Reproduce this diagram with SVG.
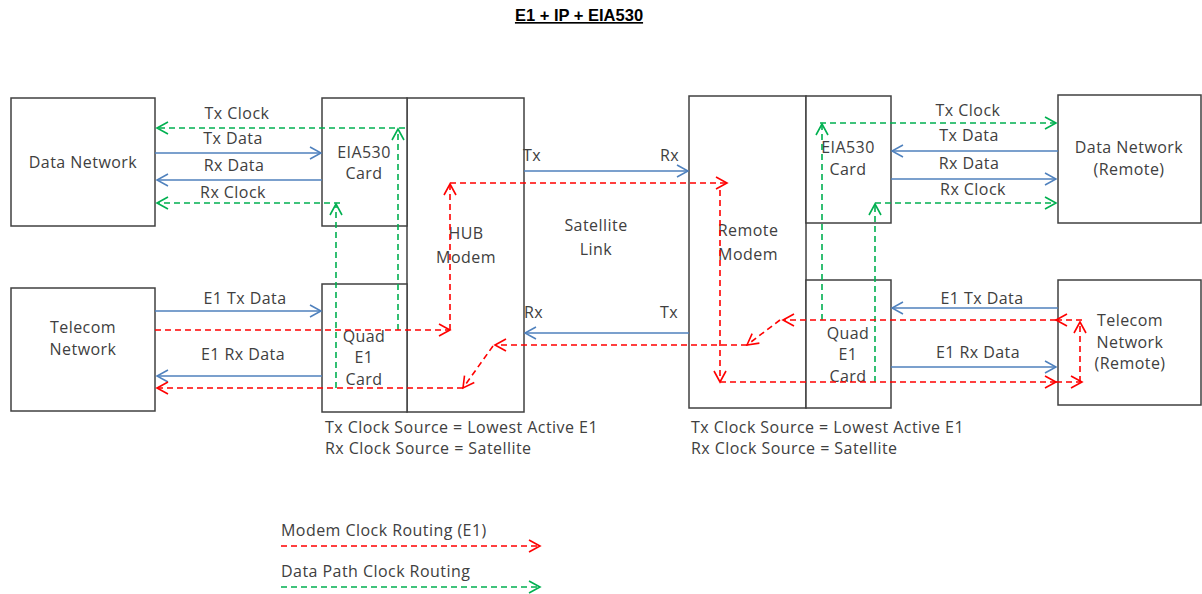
<svg xmlns="http://www.w3.org/2000/svg" width="1202" height="594" viewBox="0 0 1202 594">
<style>
.box{fill:#fff;stroke:#404040;stroke-width:1.5}
.t{font-family:"Open Sans","Liberation Sans",sans-serif;font-size:16px;letter-spacing:0.45px;fill:#404040}
.c{text-anchor:middle}
.blue{stroke:#4F81BD;stroke-width:1.5;fill:none}
.red{stroke:#FF0000;stroke-width:1.6;fill:none;stroke-dasharray:6 4}
.green{stroke:#00B050;stroke-width:1.6;fill:none;stroke-dasharray:6 4}
.ttl{font-family:"Liberation Sans",sans-serif;font-size:16.5px;font-weight:bold;fill:#000;text-anchor:middle;text-decoration:underline}
</style>
<defs>
<marker id="ab" markerUnits="userSpaceOnUse" markerWidth="14" markerHeight="14" viewBox="0 0 14 14" refX="12" refY="7" orient="auto"><path d="M1,1 L12,7 L1,13" fill="none" stroke="#4F81BD" stroke-width="1.5"/></marker>
<marker id="ar" markerUnits="userSpaceOnUse" markerWidth="14" markerHeight="14" viewBox="0 0 14 14" refX="12" refY="7" orient="auto"><path d="M1,1 L12,7 L1,13" fill="none" stroke="#FF0000" stroke-width="1.6"/></marker>
<marker id="ag" markerUnits="userSpaceOnUse" markerWidth="14" markerHeight="14" viewBox="0 0 14 14" refX="12" refY="7" orient="auto"><path d="M1,1 L12,7 L1,13" fill="none" stroke="#00B050" stroke-width="1.6"/></marker>
</defs>
<rect width="1202" height="594" fill="#fff"/>
<text class="ttl" x="579" y="21">E1 + IP + EIA530</text>

<g id="dataNetwork"><rect class="box" x="11" y="98" width="144" height="128"/><text class="t c" x="83" y="168">Data Network</text></g>
<g id="telecomNetwork"><rect class="box" x="11" y="288" width="144" height="123"/><text class="t c" x="83" y="333">Telecom</text><text class="t c" x="83" y="355">Network</text></g>
<g id="hubModem"><rect class="box" x="407" y="98" width="117" height="314"/><text class="t c" x="466" y="239">HUB</text><text class="t c" x="466" y="263">Modem</text></g>
<g id="eia530Hub"><rect class="box" x="322" y="98" width="85" height="128"/><text class="t c" x="364" y="158">EIA530</text><text class="t c" x="364" y="179">Card</text></g>
<g id="quadE1Hub"><rect class="box" x="322" y="284" width="85" height="128"/><text class="t c" x="364" y="342">Quad</text><text class="t c" x="364" y="363">E1</text><text class="t c" x="364" y="385">Card</text></g>
<g id="remoteModem"><rect class="box" x="689" y="96" width="117" height="312"/><text class="t c" x="748" y="236">Remote</text><text class="t c" x="748" y="260">Modem</text></g>
<g id="eia530Remote"><rect class="box" x="806" y="96" width="85" height="127"/><text class="t c" x="848" y="153">EIA530</text><text class="t c" x="848" y="175">Card</text></g>
<g id="quadE1Remote"><rect class="box" x="806" y="280" width="85" height="128"/><text class="t c" x="848" y="339">Quad</text><text class="t c" x="848" y="360">E1</text><text class="t c" x="848" y="382">Card</text></g>
<g id="dataNetworkRemote"><rect class="box" x="1058" y="95" width="143" height="128"/><text class="t c" x="1129" y="153">Data Network</text><text class="t c" x="1129" y="175">(Remote)</text></g>
<g id="telecomNetworkRemote"><rect class="box" x="1058" y="280" width="143" height="125"/><text class="t c" x="1130" y="326">Telecom</text><text class="t c" x="1130" y="348">Network</text><text class="t c" x="1130" y="369">(Remote)</text></g>

<g id="connectors">
<path class="blue" d="M155,153 H321" marker-end="url(#ab)"/>
<path class="blue" d="M322,180 H157" marker-end="url(#ab)"/>
<path class="blue" d="M155,311 H321" marker-end="url(#ab)"/>
<path class="blue" d="M322,376 H157" marker-end="url(#ab)"/>
<path class="blue" d="M524,171 H688" marker-end="url(#ab)"/>
<path class="blue" d="M689,333 H525" marker-end="url(#ab)"/>
<path class="blue" d="M1058,151 H892" marker-end="url(#ab)"/>
<path class="blue" d="M891,179 H1056" marker-end="url(#ab)"/>
<path class="blue" d="M1058,308 H892" marker-end="url(#ab)"/>
<path class="blue" d="M891,367 H1056" marker-end="url(#ab)"/>

<path class="green" d="M398,330 V129" marker-end="url(#ag)"/>
<path class="green" d="M405,128 H157" marker-end="url(#ag)"/>
<path class="green" d="M336,388 V204" marker-end="url(#ag)"/>
<path class="green" d="M340,203 H157" marker-end="url(#ag)"/>
<path class="green" d="M822,320 V124" marker-end="url(#ag)"/>
<path class="green" d="M820,123 H1056" marker-end="url(#ag)"/>
<path class="green" d="M875,382 V204" marker-end="url(#ag)"/>
<path class="green" d="M875,203 H1056" marker-end="url(#ag)"/>

<path class="red" d="M155,330 H450" marker-end="url(#ar)"/>
<path class="red" d="M450,330 V184" marker-end="url(#ar)"/>
<path class="red" d="M450,183 H727" marker-end="url(#ar)"/>
<path class="red" d="M720,190 V382" marker-end="url(#ar)"/>
<path class="red" d="M720,382 H1056" marker-end="url(#ar)"/>
<path class="red" d="M1056,382 H1082" marker-end="url(#ar)"/>
<path class="red" d="M1080,382 V322" marker-end="url(#ar)"/>
<path class="red" d="M1082,320 H1056" marker-end="url(#ar)"/>
<path class="red" d="M1056,320 H783" marker-end="url(#ar)"/>
<path class="red" d="M780,320 L747,345" marker-end="url(#ar)"/>
<path class="red" d="M747,345 H495" marker-end="url(#ar)"/>
<path class="red" d="M493,346 L463,388" marker-end="url(#ar)"/>
<path class="red" d="M463,388 H157" marker-end="url(#ar)"/>

<path class="red" d="M281,546 H540" marker-end="url(#ar)"/>
<path class="green" d="M281,587 H540" marker-end="url(#ag)"/>
</g>

<g id="labels">
<text class="t c" x="237" y="119">Tx Clock</text>
<text class="t c" x="233" y="144">Tx Data</text>
<text class="t c" x="234" y="171">Rx Data</text>
<text class="t c" x="233" y="198">Rx Clock</text>
<text class="t c" x="245" y="304">E1 Tx Data</text>
<text class="t c" x="243" y="360">E1 Rx Data</text>
<text class="t c" x="968" y="116">Tx Clock</text>
<text class="t c" x="969" y="141">Tx Data</text>
<text class="t c" x="969" y="169">Rx Data</text>
<text class="t c" x="973" y="195">Rx Clock</text>
<text class="t c" x="982" y="304">E1 Tx Data</text>
<text class="t c" x="978" y="358">E1 Rx Data</text>
<text class="t" x="523" y="161">Tx</text>
<text class="t" x="660" y="161">Rx</text>
<text class="t" x="524" y="318">Rx</text>
<text class="t" x="660" y="318">Tx</text>
<text class="t c" x="596" y="231">Satellite</text>
<text class="t c" x="596" y="255">Link</text>
<text class="t" x="325" y="433">Tx Clock Source = Lowest Active E1</text>
<text class="t" x="325" y="454">Rx Clock Source = Satellite</text>
<text class="t" x="691" y="433">Tx Clock Source = Lowest Active E1</text>
<text class="t" x="691" y="454">Rx Clock Source = Satellite</text>
<text class="t" x="281" y="536">Modem Clock Routing (E1)</text>
<text class="t" x="281" y="577">Data Path Clock Routing</text>
</g>
</svg>
